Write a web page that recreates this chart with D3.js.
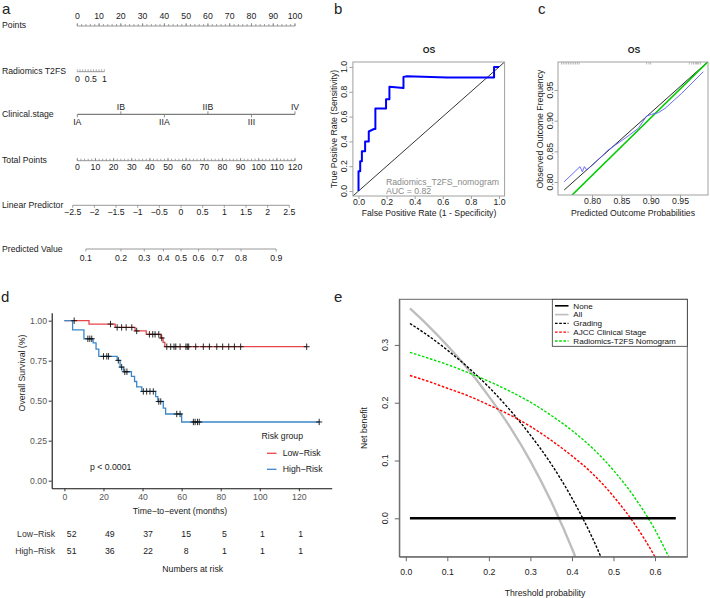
<!DOCTYPE html>
<html>
<head>
<meta charset="utf-8">
<script src="https://cdn.jsdelivr.net/npm/d3@7/dist/d3.min.js"></script>
<style>
html,body{margin:0;padding:0;background:#fff;}
svg{display:block;}
text{font-family:"Liberation Sans",Arial,Helvetica,sans-serif;}
</style>
</head>
<body>
<svg id="chart" width="710" height="598"></svg>
<script>
// ================= DATA =================
// Panel a: nomogram
const nomoRowLabels = ["Points","Radiomics T2FS","Clinical.stage","Total Points","Linear Predictor","Predicted Value"];
const pointsTicks = [0,10,20,30,40,50,60,70,80,90,100];
const radiomicsTicks = [0,0.5,1];
const stageLabels = ["IA","IB","IIA","IIB","III","IV"];
const stagePoints = [0,20,40,60,80,100];
const totalPointsTicks = [0,10,20,30,40,50,60,70,80,90,100,110,120];
const linearPredictorTicks = [-2.5,-2,-1.5,-1,-0.5,0,0.5,1,1.5,2,2.5];
const predictedValueTicks = [0.1,0.2,0.3,0.4,0.5,0.6,0.7,0.8,0.9];

// Panel b: ROC
const rocTitle = "OS";
const rocFpr = [0,0,0.012,0.012,0.024,0.024,0.047,0.047,0.073,0.073,0.11,0.12,0.12,0.196,0.196,0.22,0.22,0.32,0.32,0.345,0.63,0.965,0.965,1];
const rocTpr = [0,0.16,0.16,0.24,0.24,0.32,0.32,0.40,0.40,0.48,0.50,0.50,0.665,0.665,0.74,0.74,0.84,0.83,0.92,0.925,0.915,0.915,1.0,1.0];
const rocRef = [-0.04,1.04];
const rocTicks = [0,0.2,0.4,0.6,0.8,1.0];
const rocModel = "Radiomics_T2FS_nomogram";
const rocAUC = "0.82";

// Panel c: calibration
const calTitle = "OS";
const calTicks = [0.80,0.85,0.90,0.95];
const calApparentX = [0.7526,0.998];
const calApparentY = [0.787,0.9965];
const calIdealX = [0.766,0.998];
const calIdealY = [0.7788,0.9965];
const calBiasX = [0.7526,0.7795,0.7835,0.787,0.791,0.7995,0.8278,0.8563,0.879,0.8932,0.9017,0.913,0.9244,0.9528,0.9897];
const calBiasY = [0.8005,0.8250,0.8168,0.825,0.8196,0.8266,0.8523,0.8713,0.8876,0.9077,0.9104,0.913,0.920,0.9446,0.9799];
const calRug = [0.748,0.751,0.754,0.757,0.760,0.763,0.766,0.769,0.772,0.775,0.778,0.893,0.897,0.900,0.966,0.970,0.973,0.976,0.978,0.980,0.982,0.985];

// Panel d: Kaplan-Meier
const kmTimeTicks = [0,20,40,60,80,100,120];
const kmSurvTicks = [0,0.25,0.5,0.75,1];
const lowTimes = [0,12.6,26,36.2,41.9,49.3,50.5,51.4,124];
const lowSurv  = [1,0.979,0.958,0.936,0.915,0.892,0.864,0.8375,0.8375];
const lowCensor = [5,23.6,27,29.3,31.6,34.5,37,43.5,45.2,46.4,48.3,49.8,52.4,54.4,56.1,57,59.2,62.2,62.9,63.6,67.2,71.1,74.2,78,81,84.1,87,90.2,124];
const highTimes = [0,4.2,10,14.7,16.2,17.6,27,28.5,30.2,34.3,35.9,37,39.6,46.7,47.8,50.6,51.8,60,130.4];
const highSurv  = [1,0.943,0.887,0.862,0.822,0.777,0.752,0.71,0.681,0.652,0.62,0.586,0.558,0.525,0.495,0.453,0.417,0.367,0.367];
const highCensor = [12,13,14,20,21.7,22.6,27.6,29.3,30.9,32,40.4,42.1,43.8,45.5,48.3,49.3,57.5,59.2,66,66.9,68.1,69,130.4];
const groupNames = ["Low\u2212Risk","High\u2212Risk"];
const riskTimes = [0,20,40,60,80,100,120];
const lowAtRisk = [52,49,37,15,5,1,1];
const highAtRisk = [51,36,22,8,1,1,1];
const pValueText = "p < 0.0001";

// Panel e: decision curves
const thresholds = [0.01,0.05,0.10,0.15,0.20,0.25,0.30,0.35,0.40,0.45,0.50,0.55,0.60,0.65];
const nbNone     = [0,0,0,0,0,0,0,0,0,0,0,0,0,0];
const nbAll      = [0.363,0.336,0.299,0.258,0.211,0.159,0.099,0.029,-0.052,-0.147,null,null,null,null];
const nbGrading  = [0.337,0.318,0.291,0.261,0.227,0.188,0.144,0.094,0.035,-0.035,-0.119,null,null,null];
const nbAJCC     = [0.247,0.238,0.225,0.212,0.196,0.179,0.159,0.135,0.108,0.077,0.038,-0.009,-0.067,-0.142];
const nbNomogram = [0.287,0.278,0.266,0.252,0.237,0.220,0.201,0.178,0.152,0.121,0.083,0.037,-0.020,-0.093];
const dcaNames = ["None","All","Grading","AJCC Clinical Stage","Radiomics-T2FS Nomogram"];
const dcaXTicks = [0,0.1,0.2,0.3,0.4,0.5,0.6];
const dcaYTicks = [0,0.1,0.2,0.3];

// ================= DRAWING =================
const svg = d3.select("#chart");
const INK = "#1a1a1a";
const FS = 8.7;
const minus = v => (v < 0 ? "\u2212" + Math.abs(v) : String(v));

function txt(g,x,y,s,size=FS,anchor="start",fill=INK,weight="normal"){
  return g.append("text").attr("x",x).attr("y",y).attr("dy","0.35em")
    .attr("font-size",size).attr("text-anchor",anchor).attr("fill",fill)
    .attr("font-weight",weight).text(s);
}
function vtxt(g,x,y,s,size=FS,fill=INK){
  return g.append("text").attr("transform",`translate(${x},${y}) rotate(-90)`)
    .attr("dy","0.35em").attr("font-size",size).attr("text-anchor","middle")
    .attr("fill",fill).text(s);
}

// Panel letters
[["a",2,13.5],["b",334,13.5],["c",538,13.5],["d",1,301.5],["e",334,301.5]].forEach(([l,x,y])=>{
  svg.append("text").attr("x",x).attr("y",y).attr("font-size",15).attr("fill","#222").text(l);
});

// ---------- Panel a ----------
(function(){
  const g = svg.append("g");
  const LC = "#7d7d7d";
  const ptsX = d3.scaleLinear().domain([0,100]).range([77.3,295]);
  const radX = d3.scaleLinear().domain([0,1]).range([77.3,104.4]);
  const totX = d3.scaleLinear().domain([0,120]).range([77.3,295]);
  const lpX  = d3.scaleLinear().domain([-2.5,2.5]).range([72.7,289.3]);
  const logit = p => Math.log(p/(1-p));
  const rowY = [25,71,114.3,159.5,205.3,249.3];
  nomoRowLabels.forEach((s,i)=>txt(g,2,rowY[i],s));

  function hline(x1,x2,y,w=0.8){
    g.append("line").attr("x1",x1).attr("x2",x2).attr("y1",y).attr("y2",y)
      .attr("stroke",LC).attr("stroke-width",w);
  }
  function tk(xs,y,len,w=0.7){
    g.append("g").selectAll("line").data(xs).enter().append("line")
      .attr("x1",d=>d).attr("x2",d=>d).attr("y1",y).attr("y2",y+len)
      .attr("stroke",LC).attr("stroke-width",w);
  }
  function labels(xs,strs,y){
    xs.forEach((x,i)=>txt(g,x,y,strs[i],FS,"middle"));
  }
  hline(ptsX(0),ptsX(100),26);
  tk(ptsX.ticks(50).map(ptsX),26,-2);
  tk(pointsTicks.map(ptsX),26,-3);
  labels(pointsTicks.map(ptsX),pointsTicks.map(String),16);
  hline(radX(0),radX(1),71.7);
  tk(radX.ticks(10).map(radX),71.7,-2.5,0.6);
  labels(radiomicsTicks.map(radX),radiomicsTicks.map(String),79.3);
  hline(ptsX(0),ptsX(100),114.3,1.3);
  stagePoints.forEach((p,i)=>{
    const up = i%2===1;
    tk([ptsX(p)],114.3,up?-3:3,0.9);
    txt(g,ptsX(p),up?107:121.8,stageLabels[i],FS,"middle");
  });
  hline(totX(0),totX(120),160.7);
  tk(totX.ticks(60).map(totX),160.7,-2);
  tk(totalPointsTicks.map(totX),160.7,-2.8);
  labels(totalPointsTicks.map(totX),totalPointsTicks.map(String),166.6);
  hline(lpX(-2.5),lpX(2.5),205.3);
  tk(linearPredictorTicks.map(lpX),205.3,2.5);
  labels(linearPredictorTicks.map(lpX),linearPredictorTicks.map(minus),212);
  const pvx = predictedValueTicks.map(p=>lpX(logit(p)));
  hline(pvx[0],pvx[pvx.length-1],249);
  tk(pvx,249,2.5);
  labels(pvx,predictedValueTicks.map(d3.format(".1f")),257.8);
})();

// ---------- Panel b ----------
(function(){
  const g = svg.append("g");
  const x = d3.scaleLinear().domain([-0.04,1.04]).range([352.9,504.6]);
  const y = d3.scaleLinear().domain([-0.04,1.04]).range([196,62]);
  const BC = "#a0a0a0";
  svg.append("clipPath").attr("id","clipB").append("rect")
    .attr("x",x(-0.04)).attr("y",y(1.04)).attr("width",x(1.04)-x(-0.04)).attr("height",y(-0.04)-y(1.04));
  g.append("path").attr("clip-path","url(#clipB)")
    .attr("d",d3.line().x(d=>x(d)).y(d=>y(d))(rocRef))
    .attr("stroke","#000").attr("stroke-width",0.8).attr("fill","none");
  g.append("path").attr("clip-path","url(#clipB)")
    .attr("d",d3.line().x(d=>x(d[0])).y(d=>y(d[1]))(rocFpr.map((f,i)=>[f,rocTpr[i]])))
    .attr("stroke","#0000ff").attr("stroke-width",2).attr("fill","none").attr("stroke-linejoin","round");
  g.append("rect").attr("x",x(-0.04)).attr("y",y(1.04)).attr("width",x(1.04)-x(-0.04)).attr("height",y(-0.04)-y(1.04))
    .attr("fill","none").attr("stroke",BC).attr("stroke-width",1);
  const ax = g.append("g").attr("transform",`translate(0,${y(-0.04)})`)
    .call(d3.axisBottom(x).tickValues(rocTicks).tickFormat(d3.format(".1f")).tickSize(3).tickSizeOuter(0).tickPadding(0));
  ax.select(".domain").remove();
  ax.selectAll("line").attr("stroke",BC);
  ax.selectAll("text").attr("font-size",FS).attr("fill",INK).attr("font-family",null);
  const ay = g.append("g").attr("transform",`translate(${x(-0.04)},0)`)
    .call(d3.axisLeft(y).tickValues(rocTicks).tickSize(3.5).tickFormat(""));
  ay.select(".domain").remove();
  ay.selectAll("line").attr("stroke",BC);
  rocTicks.forEach(v=>vtxt(g,344,y(v),d3.format(".1f")(v)));
  txt(g,429,50,rocTitle,FS,"middle",INK,"bold");
  txt(g,429,213,"False Positive Rate (1 - Specificity)",FS,"middle");
  vtxt(g,334,129,"True Positive Rate (Sensitivity)");
  txt(g,386,181.5,rocModel,FS,"start","#8a8a8a");
  txt(g,386,190.5,"AUC = "+rocAUC,FS,"start","#8a8a8a");
})();

// ---------- Panel c ----------
(function(){
  const g = svg.append("g");
  const x = d3.scaleLinear().domain([0.742,0.9977]).range([558,708]);
  const y = d3.scaleLinear().domain([0.7788,0.9957]).range([195,62]);
  const BC = "#a0a0a0";
  svg.append("clipPath").attr("id","clipC").append("rect")
    .attr("x",558).attr("y",62).attr("width",150).attr("height",133);
  const line = d3.line().x(d=>x(d[0])).y(d=>y(d[1]));
  g.append("path").attr("clip-path","url(#clipC)")
    .attr("d",line(calApparentX.map((v,i)=>[v,calApparentY[i]])))
    .attr("stroke","#111").attr("stroke-width",0.9).attr("fill","none");
  g.append("path").attr("clip-path","url(#clipC)")
    .attr("d",line(calIdealX.map((v,i)=>[v,calIdealY[i]])))
    .attr("stroke","#00cc00").attr("stroke-width",1.6).attr("fill","none");
  g.append("path").attr("clip-path","url(#clipC)")
    .attr("d",line(calBiasX.map((v,i)=>[v,calBiasY[i]])))
    .attr("stroke","#5a5aff").attr("stroke-width",0.9).attr("fill","none");
  g.append("g").selectAll("line").data(calRug).enter().append("line")
    .attr("x1",d=>x(d)).attr("x2",d=>x(d)).attr("y1",62).attr("y2",64.5)
    .attr("stroke","#8c8c8c").attr("stroke-width",0.6);
  g.append("rect").attr("x",558).attr("y",62).attr("width",150).attr("height",133)
    .attr("fill","none").attr("stroke",BC).attr("stroke-width",1);
  const ax = g.append("g").attr("transform","translate(0,195)")
    .call(d3.axisBottom(x).tickValues(calTicks).tickFormat(d3.format(".2f")).tickSize(3).tickSizeOuter(0).tickPadding(0));
  ax.select(".domain").remove();
  ax.selectAll("line").attr("stroke",BC);
  ax.selectAll("text").attr("font-size",FS).attr("fill",INK).attr("font-family",null);
  const ay = g.append("g").attr("transform","translate(558,0)")
    .call(d3.axisLeft(y).tickValues(calTicks).tickSize(3.5).tickFormat(""));
  ay.select(".domain").remove();
  ay.selectAll("line").attr("stroke",BC);
  calTicks.forEach(v=>vtxt(g,550,y(v),d3.format(".2f")(v)));
  txt(g,634,50,calTitle,FS,"middle",INK,"bold");
  txt(g,633,213,"Predicted Outcome Probabilities",FS,"middle");
  vtxt(g,540,129,"Observed Outcome Frequency");
})();

// ---------- Panel d ----------
(function(){
  const g = svg.append("g");
  const x = d3.scaleLinear().domain([-6.5,136.8]).range([51.7,331.7]);
  const y = d3.scaleLinear().domain([-0.0475,1.05]).range([488.3,312.7]);
  const TC = "#555";
  const ax = g.append("g").attr("transform","translate(0,488.3)")
    .call(d3.axisBottom(x).tickValues(kmTimeTicks).tickSize(3).tickSizeOuter(0).tickPadding(2.5));
  ax.select(".domain").attr("stroke","#111").attr("stroke-width",1.1);
  ax.selectAll(".tick line").attr("stroke","#333");
  ax.selectAll("text").attr("font-size",FS).attr("fill",TC).attr("font-family",null);
  const ay = g.append("g").attr("transform","translate(51.7,0)")
    .call(d3.axisLeft(y).tickValues(kmSurvTicks).tickFormat(d3.format(".2f")).tickSize(3).tickSizeOuter(0).tickPadding(1.7));
  ay.select(".domain").attr("stroke","#111").attr("stroke-width",1.1);
  ay.selectAll(".tick line").attr("stroke","#333");
  ay.selectAll("text").attr("font-size",FS).attr("fill",TC).attr("font-family",null);

  const km = d3.line().curve(d3.curveStepAfter).x(d=>x(d[0])).y(d=>y(d[1]));
  const colors = ["#e8464a","#3b87c9"];
  const sets = [[lowTimes,lowSurv,lowCensor],[highTimes,highSurv,highCensor]];
  function survAt(times,surv,t){ let s=surv[0]; times.forEach((tt,i)=>{ if(tt<=t) s=surv[i]; }); return s; }
  sets.forEach(([T,S,C],k)=>{
    g.append("path").attr("d",km(T.map((t,i)=>[t,S[i]])))
      .attr("stroke",colors[k]).attr("stroke-width",1.3).attr("fill","none");
  });
  sets.forEach(([T,S,C])=>{
    g.append("g").selectAll("path").data(C).enter().append("path")
      .attr("d",t=>{ const px=x(t), py=y(survAt(T,S,t)); return `M${px-3},${py}H${px+3}M${px},${py-3.2}V${py+3.2}`; })
      .attr("stroke","#111").attr("stroke-width",0.9).attr("fill","none");
  });
  vtxt(g,21.7,373,"Overall Survival (%)");
  txt(g,180,511,"Time\u2212to\u2212event (months)",FS,"middle");
  txt(g,90,466.7,pValueText);
  txt(g,261.5,435.7,"Risk group");
  [453.3,469.3].forEach((ly,k)=>{
    g.append("line").attr("x1",267).attr("x2",276.5).attr("y1",ly).attr("y2",ly)
      .attr("stroke",colors[k]).attr("stroke-width",1.3);
    txt(g,282.7,ly,groupNames[k]);
  });
  const tx = d3.scaleLinear().domain([0,120]).range([71.7,300.7]);
  [[lowAtRisk,534.3],[highAtRisk,550.7]].forEach(([arr,ry],k)=>{
    txt(g,55,ry,groupNames[k],FS,"end","#333");
    arr.forEach((n,i)=>txt(g,tx(riskTimes[i]),ry,String(n),FS,"middle"));
  });
  txt(g,192.7,569,"Numbers at risk",FS,"middle");
})();

// ---------- Panel e ----------
(function(){
  const g = svg.append("g");
  const x = d3.scaleLinear().domain([-0.0156,0.6777]).range([399.3,687.3]);
  const y = d3.scaleLinear().domain([-0.0664,0.3789]).range([556.7,299.3]);
  const BC = "#666";
  svg.append("clipPath").attr("id","clipE").append("rect")
    .attr("x",399.3).attr("y",299.3).attr("width",288).attr("height",257.4);
  const ln = d3.line().defined(d=>d[1]!=null).curve(d3.curveMonotoneX).x(d=>x(d[0])).y(d=>y(d[1]));
  const series = [
    {v:nbNone, c:"#000", w:2.4, dash:null},
    {v:nbAll, c:"#bebebe", w:2.4, dash:null},
    {v:nbGrading, c:"#000", w:1.4, dash:"2.6,1.6"},
    {v:nbAJCC, c:"#ff0000", w:1.4, dash:"2.6,1.6"},
    {v:nbNomogram, c:"#00dd00", w:1.4, dash:"2.6,1.6"}
  ];
  [1,2,3,4,0].forEach(k=>{
    const s = series[k];
    g.append("path").attr("clip-path","url(#clipE)")
      .attr("d",ln(thresholds.map((t,i)=>[t,s.v[i]])))
      .attr("stroke",s.c).attr("stroke-width",s.w).attr("fill","none")
      .attr("stroke-dasharray",s.dash);
  });
  g.append("rect").attr("x",399.3).attr("y",299.3).attr("width",288).attr("height",257.4)
    .attr("fill","none").attr("stroke",BC).attr("stroke-width",1);
  const ax = g.append("g").attr("transform","translate(0,556.7)")
    .call(d3.axisBottom(x).tickValues(dcaXTicks).tickFormat(d3.format(".1f")).tickSize(4.5).tickSizeOuter(0).tickPadding(7.5));
  ax.select(".domain").attr("stroke",BC);
  ax.selectAll(".tick line").attr("stroke",BC);
  ax.selectAll("text").attr("font-size",FS).attr("fill",INK).attr("font-family",null);
  const ay = g.append("g").attr("transform","translate(399.3,0)")
    .call(d3.axisLeft(y).tickValues(dcaYTicks).tickSize(4.5).tickSizeOuter(0).tickFormat(""));
  ay.select(".domain").attr("stroke",BC);
  ay.selectAll(".tick line").attr("stroke",BC);
  dcaYTicks.forEach(v=>vtxt(g,385,y(v),d3.format(".1f")(v)));
  txt(g,545,592.7,"Threshold probability",FS,"middle");
  vtxt(g,364,428,"Net benefit");
  const lg = g.append("g");
  lg.append("rect").attr("x",552.3).attr("y",299.3).attr("width",135).attr("height",47)
    .attr("fill","#fff").attr("stroke","#333").attr("stroke-width",0.8);
  dcaNames.forEach((n,i)=>{
    const ly = 305.8 + i*8.8;
    const s = series[i];
    lg.append("line").attr("x1",555).attr("x2",568.5).attr("y1",ly).attr("y2",ly)
      .attr("stroke",s.c).attr("stroke-width",s.dash?1.3:1.6).attr("stroke-dasharray",s.dash?"2.6,1.6":null);
    txt(lg,573.3,ly,n,8.1,"start","#111");
  });
})();
</script>
</body>
</html>
